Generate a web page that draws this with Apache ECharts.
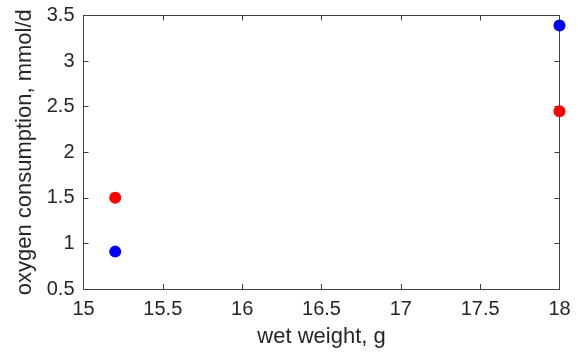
<!DOCTYPE html>
<html>
<head>
<meta charset="utf-8">
<script src="https://cdn.jsdelivr.net/npm/echarts@6/dist/echarts.min.js"></script>
<style>
  html, body { margin: 0; padding: 0; background: #fff; }
  #chart { width: 578px; height: 358px; }
</style>
</head>
<body>
<div id="chart"></div>
<script>
// Wet weight (g) and oxygen consumption (mmol/d) for two groups
const wetWeight = [15.2, 18];
const blueSeries = [0.91, 3.39];
const redSeries = [1.5, 2.45];

const xTicks = { min: 15, max: 18, interval: 0.5 };
const yTicks = { min: 0.5, max: 3.5, interval: 0.5 };

const axisColor = '#404040';
const textColor = '#262626';
const font = 'Liberation Sans, Arial, sans-serif';

function pairs(xs, ys) { return xs.map((x, i) => [x, ys[i]]); }

const chart = echarts.init(document.getElementById('chart'), null, { renderer: 'canvas' });

const baseAxis = {
  axisLine: { show: true, onZero: false, lineStyle: { color: axisColor, width: 1 } },
  axisTick: { show: true, inside: true, length: 5, lineStyle: { color: axisColor } },
  splitLine: { show: false }
};

chart.setOption({
  animation: false,
  grid: { left: 83.5, right: 18.5, top: 15.5, bottom: 69, containLabel: false },
  xAxis: [
    Object.assign({}, baseAxis, {
      type: 'value', position: 'bottom', ...xTicks,
      name: 'wet weight, g', nameLocation: 'middle', nameGap: 37,
      nameTextStyle: { color: textColor, fontSize: 22, fontFamily: font },
      axisLabel: { color: textColor, fontSize: 20, fontFamily: font, margin: 10 }
    }),
    Object.assign({}, baseAxis, {
      type: 'value', position: 'top', ...xTicks,
      axisLabel: { show: false }
    })
  ],
  yAxis: [
    Object.assign({}, baseAxis, {
      type: 'value', position: 'left', ...yTicks,
      name: 'oxygen consumption, mmol/d', nameLocation: 'middle', nameGap: 44,
      nameTextStyle: { color: textColor, fontSize: 22, fontFamily: font },
      axisLabel: { color: textColor, fontSize: 20, fontFamily: font, margin: 9 }
    }),
    Object.assign({}, baseAxis, {
      type: 'value', position: 'right', ...yTicks,
      axisLabel: { show: false }
    })
  ],
  series: [
    {
      type: 'scatter', data: pairs(wetWeight, blueSeries),
      symbol: 'circle', symbolSize: 12,
      itemStyle: { color: '#0000ff', opacity: 1 }
    },
    {
      type: 'scatter', data: pairs(wetWeight, redSeries),
      symbol: 'circle', symbolSize: 12,
      itemStyle: { color: '#ff0000', opacity: 1 }
    }
  ]
});
</script>
</body>
</html>
